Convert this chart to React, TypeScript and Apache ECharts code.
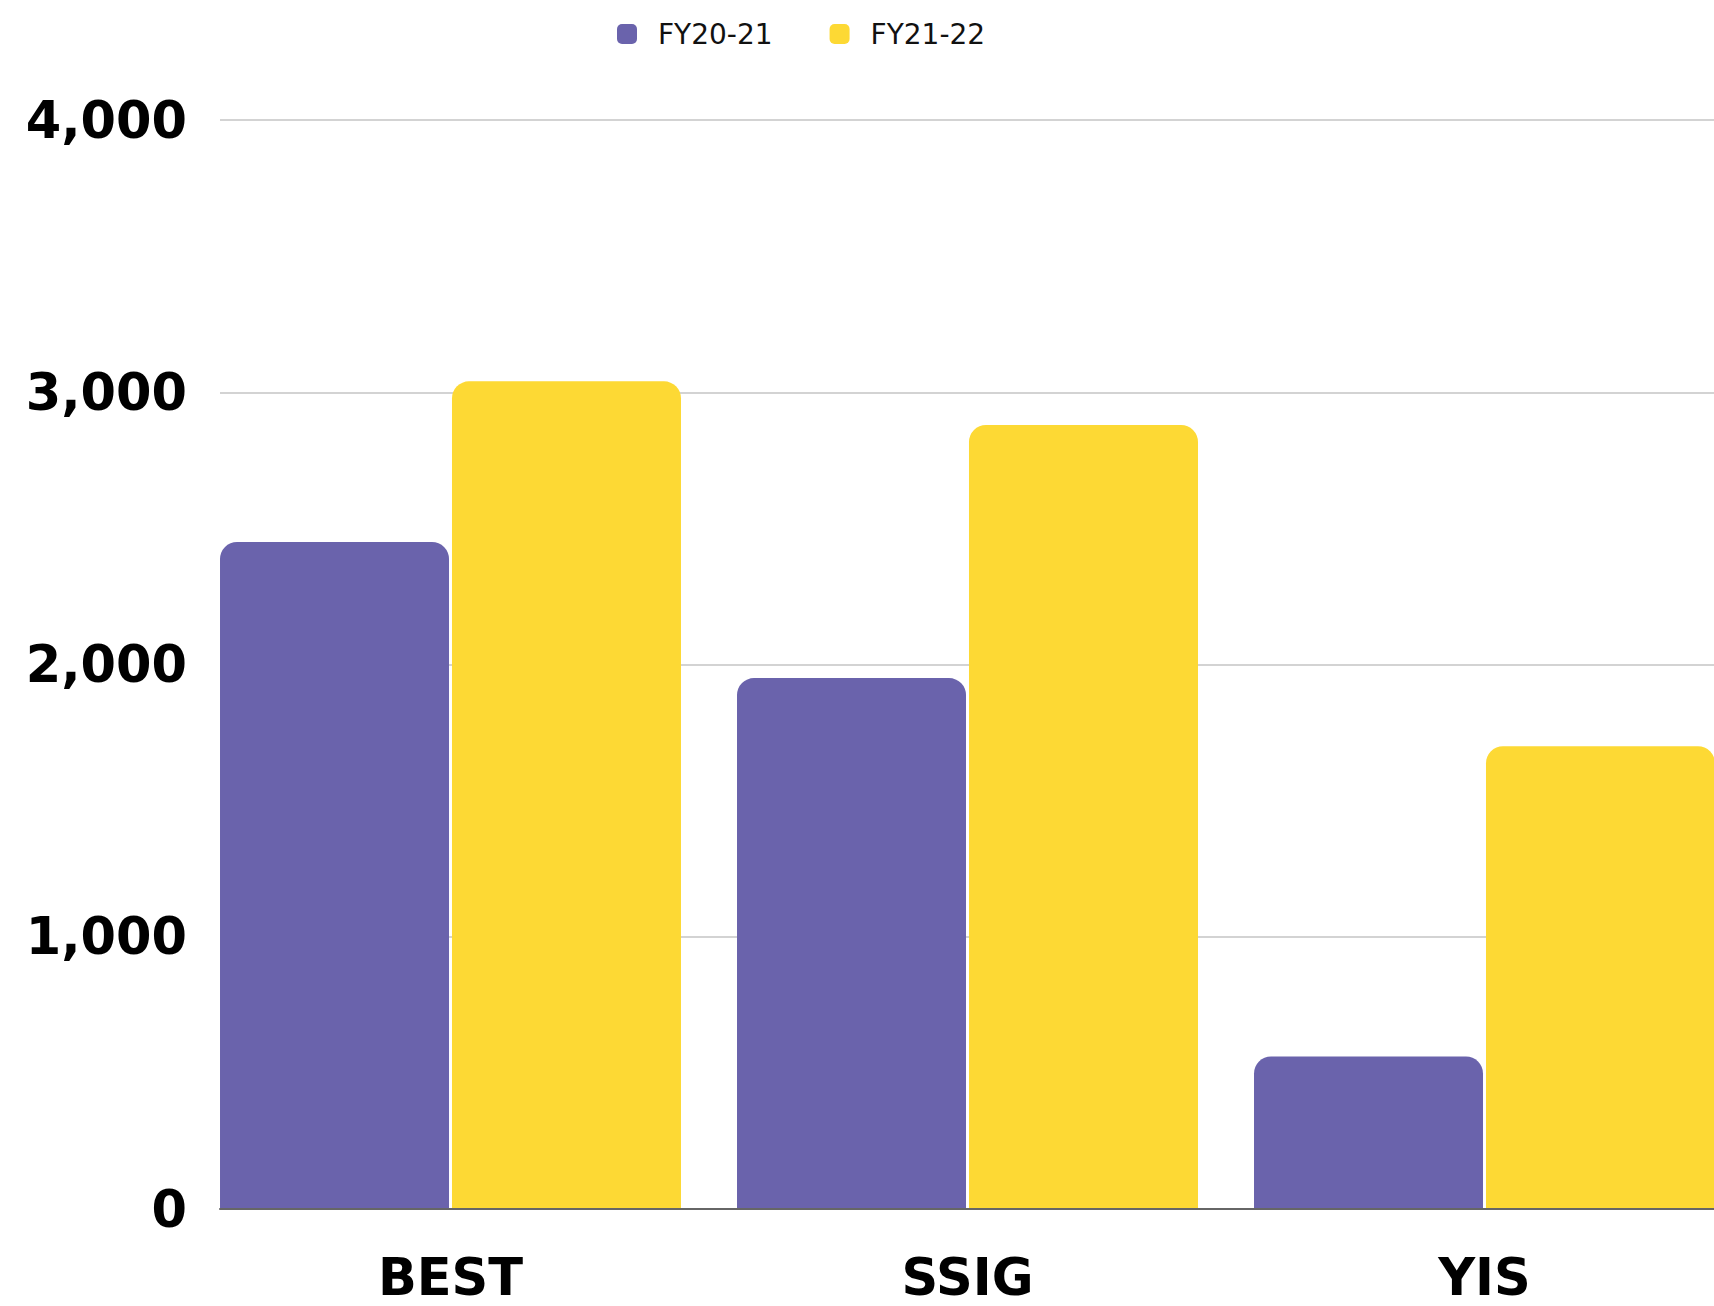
import React, { useEffect, useRef } from "react";
import * as echarts from "echarts";

const categories = ["BEST", "SSIG", "YIS"];
const seriesNames = ["FY20-21", "FY21-22"];
const fy2021 = [2450, 1950, 560];
const fy2122 = [3040, 2880, 1700];
const colors = ["#6A63AC", "#FDD934"];

const VIEW_W = 1714;
const VIEW_H = 1306;
const CHART_W = 1760;

export default function App() {
  const ref = useRef<HTMLDivElement>(null);
  useEffect(() => {
    if (!ref.current) return;
    const chart = echarts.init(ref.current, null, { renderer: "svg" });
    const top = 120;
    const bottom = 97;
    chart.setOption({
      animation: false,
      backgroundColor: "#ffffff",
      legend: {
        data: seriesNames,
        left: 612,
        top: 15,
        itemWidth: 20,
        itemHeight: 20,
        itemGap: 57,
        icon: "roundRect",
        textStyle: {
          fontFamily: "DejaVu Sans",
          fontSize: 28,
          color: "#111",
          padding: [15, 0, 0, 16],
        },
      },
      grid: [
        { left: 220, right: CHART_W - VIEW_W, top, bottom },
        { left: 192, right: CHART_W - 192 - 1551, top, bottom },
      ],
      xAxis: [
        {
          type: "value",
          gridIndex: 0,
          min: 0,
          max: 1,
          z: 10,
          axisLine: { show: true, onZero: false, lineStyle: { color: "#666666", width: 2 } },
          axisTick: { show: false },
          axisLabel: { show: false },
          splitLine: { show: false },
        },
        {
          type: "category",
          gridIndex: 1,
          data: categories,
          axisLine: { show: false },
          axisTick: { show: false },
          axisLabel: {
            margin: 43,
            fontFamily: "DejaVu Sans",
            fontWeight: "bold",
            fontSize: 51,
            color: "#000",
          },
        },
      ],
      yAxis: [
        {
          type: "value",
          gridIndex: 0,
          min: 0,
          max: 4000,
          interval: 1000,
          axisLine: { show: false },
          axisTick: { show: false },
          axisLabel: {
            margin: 33,
            fontFamily: "DejaVu Sans",
            fontWeight: "bold",
            fontSize: 51,
            color: "#000",
            formatter: (v: number) => v.toLocaleString("en-US"),
          },
          splitLine: { lineStyle: { color: "#C4C4C4", width: 1.5 } },
        },
        {
          type: "value",
          gridIndex: 1,
          min: 0,
          max: 4000,
          interval: 1000,
          show: false,
          splitLine: { show: false },
        },
      ],
      series: [
        {
          name: seriesNames[0],
          type: "bar",
          xAxisIndex: 1,
          yAxisIndex: 1,
          data: fy2021,
          barWidth: 229,
          barGap: "1.3%",
          itemStyle: { color: colors[0], borderRadius: [17, 17, 0, 0] },
          z: 2,
        },
        {
          name: seriesNames[1],
          type: "bar",
          xAxisIndex: 1,
          yAxisIndex: 1,
          data: fy2122,
          barWidth: 229,
          barGap: "1.3%",
          itemStyle: { color: colors[1], borderRadius: [17, 17, 0, 0] },
          z: 2,
        },
      ],
    });
    return () => chart.dispose();
  }, []);
  return (
    <div
      style={{
        position: "absolute",
        left: 0,
        top: 0,
        width: VIEW_W,
        height: VIEW_H,
        overflow: "hidden",
      }}
    >
      <div ref={ref} style={{ width: CHART_W, height: VIEW_H }} />
    </div>
  );
}
